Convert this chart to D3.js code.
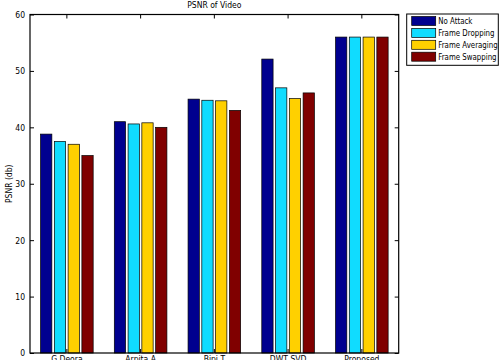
<!DOCTYPE html>
<html lang="en">
<head>
    <meta charset="UTF-8">
    <title>PSNR of Video</title>
    <script src="https://cdn.jsdelivr.net/npm/d3@7"></script>
    <style>
        body{ margin: 0; background: #fff; }
        text{ font-family: "DejaVu Sans", sans-serif; font-size: 9px; fill: #000; }
    </style>
</head>
<body>
<svg id="chart" width="502" height="360"></svg>

<script>
    // data
    let methods = ["G.Deora", "Arpita A", "Bipi T", "DWT SVD", "Proposed"]
    let attacks = ["No Attack", "Frame Dropping", "Frame Averaging", "Frame Swapping"]
    let noAttack       = [38.8, 41.0, 45.0, 52.1, 56.0]
    let frameDropping  = [37.5, 40.6, 44.8, 47.0, 56.0]
    let frameAveraging = [37.0, 40.8, 44.7, 45.1, 56.0]
    let frameSwapping  = [35.0, 40.0, 43.0, 46.1, 56.0]
    let yTicks = [0, 10, 20, 30, 40, 50, 60]
    let colors = ["#00008f", "#10dcff", "#ffd000", "#800000"]

    let series = [noAttack, frameDropping, frameAveraging, frameSwapping]

    let svg = d3.select("#chart")
    let pLeft = 30, pRight = 398.7, pTop = 14.5, pBottom = 353

    let x = d3.scaleBand().domain(methods).range([pLeft, pRight])
    let xs = d3.scaleBand().domain(attacks).range([-26.3, 26.3]).paddingInner(0.18)
    let y = d3.scaleLinear().domain([0, 60]).range([pBottom, pTop])

    // narrow the default font a bit, the original uses a condensed face
    function squeeze(sel, k) {
        sel.each(function () {
            let w = this.getComputedTextLength()
            d3.select(this).attr("textLength", w * k).attr("lengthAdjust", "spacingAndGlyphs")
        })
    }

    // bars
    series.forEach(function (vals, i) {
        svg.append("g")
            .selectAll("rect")
            .data(vals)
            .enter()
            .append("rect")
            .attr("x", function (d, j) { return x(methods[j]) + x.bandwidth() / 2 + xs(attacks[i]) })
            .attr("y", function (d) { return y(d) })
            .attr("width", xs.bandwidth())
            .attr("height", function (d) { return pBottom - y(d) })
            .attr("fill", colors[i])
            .attr("stroke", "#000")
            .attr("stroke-width", 0.7)
    })

    // frame
    svg.append("rect")
        .attr("x", pLeft).attr("y", pTop)
        .attr("width", pRight - pLeft).attr("height", pBottom - pTop)
        .attr("fill", "none").attr("stroke", "#000").attr("stroke-width", 1.2)

    // y axis, ticks inward on both sides
    let yl = d3.axisLeft(y).tickValues(yTicks).tickSizeInner(-4).tickSizeOuter(0).tickPadding(5)
    let gy = svg.append("g").attr("transform", "translate(" + pLeft + ",0)").call(yl)
    gy.select(".domain").remove()
    let yr = d3.axisRight(y).tickValues(yTicks).tickSizeInner(-4).tickSizeOuter(0).tickFormat("")
    let gyr = svg.append("g").attr("transform", "translate(" + pRight + ",0)").call(yr)
    gyr.select(".domain").remove()

    // x axis, ticks inward on bottom and top
    let xb = d3.axisBottom(x).tickSizeInner(-4).tickSizeOuter(0).tickPadding(3)
    let gx = svg.append("g").attr("transform", "translate(0," + pBottom + ")").call(xb)
    gx.select(".domain").remove()
    let xt = d3.axisTop(x).tickSizeInner(-4).tickSizeOuter(0).tickFormat("")
    let gxt = svg.append("g").attr("transform", "translate(0," + pTop + ")").call(xt)
    gxt.select(".domain").remove()

    svg.selectAll(".tick line").attr("stroke", "#000")
    svg.selectAll(".tick text").style("font-family", "\"DejaVu Sans\", sans-serif").style("font-size", "9px")
    squeeze(svg.selectAll(".tick text"), 0.85)

    // title and y label
    svg.append("text").attr("x", (pLeft + pRight) / 2).attr("y", 8)
        .attr("text-anchor", "middle").text("PSNR of Video").call(squeeze, 0.85)
    svg.append("text")
        .attr("transform", "translate(12," + (pTop + pBottom) / 2 + ") rotate(-90)")
        .attr("text-anchor", "middle").text("PSNR (db)").call(squeeze, 0.85)

    // legend
    let lg = svg.append("g").attr("transform", "translate(406.7,14)")
    lg.append("rect").attr("width", 91.6).attr("height", 51.3)
        .attr("fill", "#fff").attr("stroke", "#000").attr("stroke-width", 1)
    attacks.forEach(function (a, i) {
        let cy = 7 + i * 11.9
        lg.append("rect").attr("x", 5).attr("y", cy - 4.5).attr("width", 24).attr("height", 9)
            .attr("fill", colors[i]).attr("stroke", "#000").attr("stroke-width", 0.7)
        lg.append("text").attr("x", 31.5).attr("y", cy + 3.2).text(a).call(squeeze, 0.78)
    })
</script>
</body>
</html>
